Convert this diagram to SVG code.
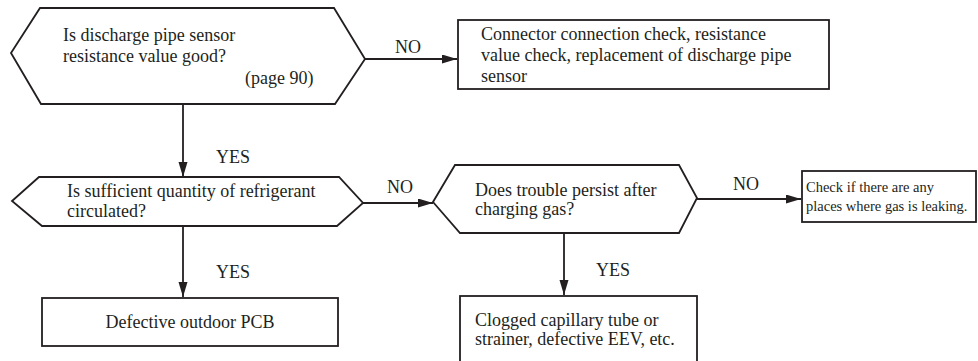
<svg xmlns="http://www.w3.org/2000/svg" width="978" height="361" viewBox="0 0 978 361">
<defs>
<style>
.box{fill:#fff;stroke:#231f20;stroke-width:1.8}
.c{fill:none;stroke:#231f20;stroke-width:1.8}
</style>
<marker id="ah" markerUnits="userSpaceOnUse" markerWidth="16" markerHeight="10" refX="15" refY="4.5" orient="auto">
<path d="M0,0 L15,4.5 L0,9 z" fill="#231f20"/>
</marker>
</defs>
<rect width="978" height="361" fill="#fff"/>
<g font-family="'Liberation Serif', 'DejaVu Serif', 'Times New Roman', serif" font-size="18" fill="#231f20">
<g id="connectors">
<line class="c" x1="365" y1="59" x2="457" y2="59" marker-end="url(#ah)"/>
<line class="c" x1="183" y1="104" x2="183" y2="177" marker-end="url(#ah)"/>
<line class="c" x1="363" y1="203" x2="433" y2="203" marker-end="url(#ah)"/>
<line class="c" x1="697" y1="199" x2="801" y2="199" marker-end="url(#ah)"/>
<line class="c" x1="183" y1="226" x2="183" y2="297" marker-end="url(#ah)"/>
<line class="c" x1="564" y1="233" x2="564" y2="295" marker-end="url(#ah)"/>
<text x="408" y="53" text-anchor="middle">NO</text>
<text x="233" y="163" text-anchor="middle">YES</text>
<text x="400" y="193" text-anchor="middle">NO</text>
<text x="746" y="190" text-anchor="middle">NO</text>
<text x="233" y="278" text-anchor="middle">YES</text>
<text x="613" y="276" text-anchor="middle">YES</text>
</g>
<g id="q1">
<polygon class="box" points="40,8 334,8 365,59 335,104 41,104 11,53"/>
<text x="63" y="41">Is discharge pipe sensor</text>
<text x="63" y="62">resistance value good?</text>
<text x="245" y="84">(page 90)</text>
</g>
<g id="r1">
<rect class="box" x="458" y="20" width="371" height="69"/>
<text x="481" y="40">Connector connection check, resistance</text>
<text x="481" y="61">value check, replacement of discharge pipe</text>
<text x="481" y="82">sensor</text>
</g>
<g id="q2">
<polygon class="box" points="39,177 339,177 363,203 337,226 42,226 12,201"/>
<text x="67" y="197">Is sufficient quantity of refrigerant</text>
<text x="67" y="217">circulated?</text>
</g>
<g id="q3">
<polygon class="box" points="455,165 679,165 697,198 679,233 460,233 433,202"/>
<text x="475" y="196">Does trouble persist after</text>
<text x="475" y="215">charging gas?</text>
</g>
<g id="r2">
<rect class="box" x="802" y="171" width="174" height="51"/>
<text x="806" y="192" font-size="14.5">Check if there are any</text>
<text x="806" y="211" font-size="14.5">places where gas is leaking.</text>
</g>
<g id="r3">
<rect class="box" x="42" y="298" width="296" height="48"/>
<text x="190" y="328" text-anchor="middle">Defective outdoor PCB</text>
</g>
<g id="r4">
<rect class="box" x="460" y="296" width="237" height="75"/>
<text x="475" y="326">Clogged capillary tube or</text>
<text x="475" y="345">strainer, defective EEV, etc.</text>
</g>
</g>
</svg>
